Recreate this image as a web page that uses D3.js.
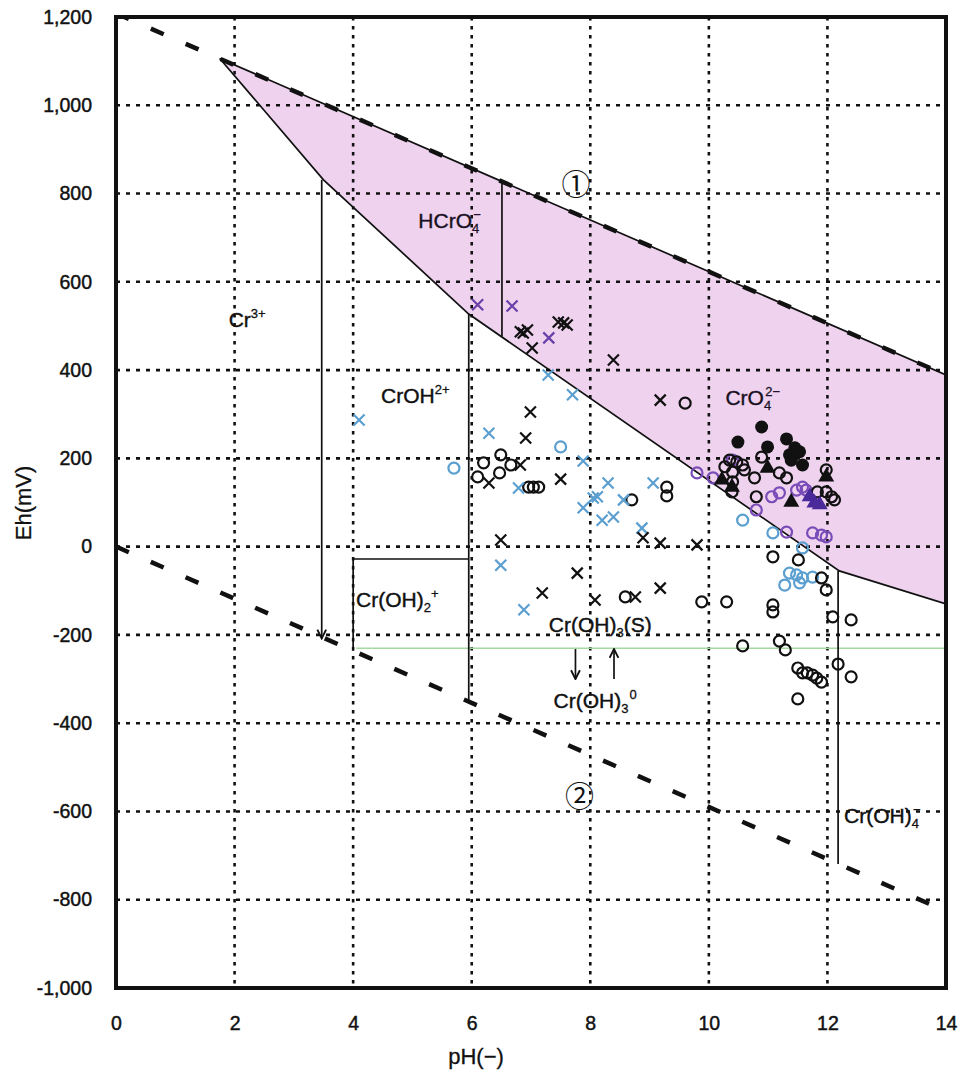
<!DOCTYPE html>
<html>
<head>
<meta charset="utf-8">
<script src="https://cdn.jsdelivr.net/npm/d3@7/dist/d3.min.js"></script>
<style>
  html, body { margin: 0; padding: 0; background: #fff; }
  svg { display: block; }
  text { font-family: "Liberation Sans", Arial, Helvetica, sans-serif; fill: #111; }
</style>
</head>
<body>
<svg id="chart" width="961" height="1075"></svg>
<script>
// ---------------- data ----------------
const xTicks = [0, 2, 4, 6, 8, 10, 12, 14];
const xTickLabels = ["0", "2", "4", "6", "8", "10", "12", "14"];
const yTicks = [-1000, -800, -600, -400, -200, 0, 200, 400, 600, 800, 1000, 1200];
const yTickLabels = ["-1,000", "-800", "-600", "-400", "-200", "0", "200", "400", "600", "800", "1,000", "1,200"];

// water stability lines [pH, Eh]
const line1 = [[0, 1208], [14, 389]];
const line2 = [[0, 0], [14, -826]];

// Cr(VI) field (pink): upper edge on line 1, lower edge boundary
const upperEdge = [[1.75, 1106], [14, 389]];
const lowerEdge = [[1.75, 1106], [3.5, 831], [5.95, 527], [12.2, -55], [14, -130]];

// other boundaries
const bHCrO4 = [[6.51, 827], [6.51, 476]];
const bCrOH = [[5.95, 527], [5.95, -351]];
const bCrOH2box = [[4.0, -236], [4.0, -28], [5.95, -28]];
const bCrOH4 = [[12.18, -55], [12.18, -719]];
const arrowCr3 = [[3.47, 831], [3.47, -208]];
const greenLine = [[4.05, -230], [14, -230]];
const arrowDown = [[7.75, -232], [7.75, -300]];
const arrowUp = [[8.4, -300], [8.4, -232]];

// measured points [pH, Eh]
const blackX = [[6.82,487],[6.87,484],[6.94,491],[7.02,450],[7.46,509],[7.55,507],[7.61,502],[8.39,423],
  [6.99,305],[6.91,246],[6.29,144],[6.82,185],[7.50,153],[8.89,20],[9.18,8],[6.49,15],[7.78,-60],
  [7.19,-105],[8.08,-121],[8.76,-114],[9.18,-94],[9.18,332],[9.80,4]];
const blueX = [[7.29,389],[7.70,344],[4.10,287],[6.29,257],[6.79,133],[7.88,194],[8.30,144],[8.05,110],
  [8.12,113],[7.88,88],[8.20,60],[8.39,67],[8.56,106],[9.06,144],[8.87,42],[6.49,-42],[6.88,-143]];
const purpleX = [[6.10,548],[6.68,545],[7.30,473]];
const blackO = [[6.20,190],[6.49,208],[6.10,158],[6.47,167],[6.66,185],[6.96,135],[7.04,135],[7.13,135],
  [8.70,106],[9.29,135],[9.29,115],[9.60,325],[8.59,-114],
  [10.35,196],[10.47,192],[10.57,185],[10.27,181],[10.40,169],[10.60,174],[10.89,203],[10.39,124],
  [10.40,147],[10.77,156],[10.80,113],[11.19,167],[11.31,156],[11.98,174],[11.83,124],[11.98,124],
  [12.07,113],[12.12,106],
  [11.08,-23],[11.51,-30],[11.90,-71],[11.98,-98],[9.88,-125],[10.30,-125],[11.08,-132],[11.08,-148],
  [12.09,-159],[12.40,-166],[10.57,-225],[11.19,-214],[11.29,-234],[11.50,-275],[11.58,-286],
  [11.66,-286],[11.75,-291],[11.82,-298],[11.90,-307],[11.50,-345],[12.18,-266],[12.40,-295]];
const blueO = [[7.50,226],[5.70,178],[10.57,60],[11.08,31],[11.36,-60],[11.48,-64],[11.58,-71],
  [11.28,-87],[11.53,-82],[11.75,-69],[11.58,-3]];
const purpleO = [[9.80,167],[10.07,156],[10.40,196],[11.06,113],[11.19,122],[11.48,128],[11.58,135],
  [11.31,33],[11.75,31],[11.90,26],[11.98,22],[10.80,83],[11.64,128]];
const blackDot = [[10.89,271],[10.49,237],[10.99,226],[11.31,244],[11.45,224],[11.53,215],[11.36,208],
  [11.58,185],[11.39,196]];
const blackTri = [[10.22,151],[10.39,135],[10.99,178],[11.39,101],[11.98,158]];
const purpleTri = [[11.70,113],[11.87,95],[11.78,99]];

// ---------------- chart ----------------
const svg = d3.select("#chart");
const x = d3.scaleLinear().domain([0, 14]).range([116, 946]);
const y = d3.scaleLinear().domain([-1000, 1200]).range([988, 17]);
const line = d3.line().x(d => x(d[0])).y(d => y(d[1]));

const defs = svg.append("defs");
defs.append("clipPath").attr("id", "plotclip")
  .append("rect").attr("x", x(0)).attr("y", y(1200)).attr("width", x(14) - x(0)).attr("height", y(-1000) - y(1200));
defs.append("marker").attr("id", "arr").attr("viewBox", "0 0 10 10").attr("refX", 9).attr("refY", 5)
  .attr("markerWidth", 11).attr("markerHeight", 11).attr("markerUnits", "userSpaceOnUse").attr("orient", "auto")
  .append("path").attr("d", "M1,1L9,5L1,9").attr("fill", "none").attr("stroke", "#111").attr("stroke-width", 1.7);

const plot = svg.append("g").attr("clip-path", "url(#plotclip)");

// pink region
const pinkPoly = upperEdge.concat(lowerEdge.slice().reverse());
plot.append("path").attr("d", line(pinkPoly) + "Z").attr("fill", "#eed2ee").attr("stroke", "none");

// grid
const grid = plot.append("g");
xTicks.filter(t => t > 0 && t < 14).forEach(t => {
  grid.append("line").attr("x1", x(t)).attr("x2", x(t)).attr("y1", y(1200)).attr("y2", y(-1000))
    .attr("stroke", "#111").attr("stroke-width", 2.6).attr("stroke-dasharray", "3.5,5.5");
});
yTicks.filter(t => t > -1000 && t < 1200).forEach(t => {
  grid.append("line").attr("x1", x(0)).attr("x2", x(14)).attr("y1", y(t)).attr("y2", y(t))
    .attr("stroke", "#111").attr("stroke-width", 2.6).attr("stroke-dasharray", "4,6");
});

// green line
plot.append("path").attr("d", line(greenLine)).attr("stroke", "#a6d9a0").attr("stroke-width", 1.5).attr("fill", "none");

// boundaries (solid thin)
[upperEdge, lowerEdge, bHCrO4, bCrOH, bCrOH2box, bCrOH4].forEach(b => {
  plot.append("path").attr("d", line(b)).attr("stroke", "#111").attr("stroke-width", 1.7).attr("fill", "none");
});
plot.append("path").attr("d", line(arrowCr3)).attr("stroke", "#111").attr("stroke-width", 1.7)
  .attr("fill", "none").attr("marker-end", "url(#arr)");

// water lines (thick dashes)
[line1, line2].forEach(l => {
  plot.append("path").attr("d", line(l)).attr("stroke", "#111").attr("stroke-width", 4.5)
    .attr("stroke-dasharray", "14,24").attr("fill", "none");
});

// markers
const mk = plot.append("g");
function drawX(data, color) {
  mk.selectAll(null).data(data).enter().append("path")
    .attr("transform", d => `translate(${x(d[0])},${y(d[1])})`)
    .attr("d", "M-5.5,-5.5L5.5,5.5M-5.5,5.5L5.5,-5.5")
    .attr("stroke", color).attr("stroke-width", 2.2).attr("fill", "none");
}
function drawO(data, color) {
  mk.selectAll(null).data(data).enter().append("circle")
    .attr("cx", d => x(d[0])).attr("cy", d => y(d[1])).attr("r", 5.5)
    .attr("stroke", color).attr("stroke-width", 2.2).attr("fill", "none");
}
function drawDot(data, color) {
  mk.selectAll(null).data(data).enter().append("circle")
    .attr("cx", d => x(d[0])).attr("cy", d => y(d[1])).attr("r", 6.5).attr("fill", color);
}
function drawTri(data, color) {
  const sym = d3.symbol().type(d3.symbolTriangle).size(110);
  mk.selectAll(null).data(data).enter().append("path")
    .attr("transform", d => `translate(${x(d[0])},${y(d[1])})`)
    .attr("d", sym).attr("fill", color);
}
drawO(blueO, "#5b9fd0");
drawO(purpleO, "#7a4cb8");
drawO(blackO, "#111");
drawX(blueX, "#5b9fd0");
drawX(purpleX, "#6a3fa8");
drawX(blackX, "#111");
drawDot(blackDot, "#111");
drawTri(blackTri, "#111");
drawTri(purpleTri, "#4a2a9a");

// frame
svg.append("rect").attr("x", x(0)).attr("y", y(1200)).attr("width", x(14) - x(0)).attr("height", y(-1000) - y(1200))
  .attr("fill", "none").attr("stroke", "#111").attr("stroke-width", 4);

// axes
const yAxis = d3.axisLeft(y).tickValues(yTicks).tickSize(0).tickPadding(24)
  .tickFormat((d, i) => yTickLabels[i]);
const ya = svg.append("g").attr("transform", `translate(${x(0)},0)`).call(yAxis);
ya.select(".domain").remove();
ya.selectAll("text").attr("font-size", 19.5).attr("fill", "#111").attr("stroke", "#111").attr("stroke-width", 0.45)
  .style("font-family", '"Liberation Sans", Arial, sans-serif');

const xAxis = d3.axisBottom(x).tickValues(xTicks).tickSize(0).tickPadding(28)
  .tickFormat((d, i) => xTickLabels[i]);
const xa = svg.append("g").attr("transform", `translate(0,${y(-1000)})`).call(xAxis);
xa.select(".domain").remove();
xa.selectAll("text").attr("font-size", 19.5).attr("fill", "#111").attr("stroke", "#111").attr("stroke-width", 0.45)
  .style("font-family", '"Liberation Sans", Arial, sans-serif');

svg.append("text").attr("x", 476).attr("y", 1064).attr("text-anchor", "middle")
  .attr("font-size", 22).attr("stroke", "#111").attr("stroke-width", 0.3).text("pH(−)");
svg.append("text").attr("transform", "translate(31,503) rotate(-90)").attr("text-anchor", "middle")
  .attr("font-size", 22).attr("stroke", "#111").attr("stroke-width", 0.3).text("Eh(mV)");

// species labels: parts = [text, kind, dx]
function label(px, eh, parts, color) {
  const size = 21;
  const col = color || "#111";
  const t = svg.append("text").attr("x", x(px)).attr("y", y(eh)).attr("font-size", size)
    .attr("fill", col).attr("stroke", col).attr("stroke-width", 0.4);
  let level = 0;
  parts.forEach(p => {
    const kind = p[1] || "base";
    const target = kind === "sup" ? -9 : kind === "sub" ? 5 : 0;
    const s = t.append("tspan").text(p[0]).attr("dy", target - level);
    level = target;
    if (kind !== "base") s.attr("font-size", size * 0.62).attr("stroke-width", 0.3);
    if (p[2] !== undefined) s.attr("dx", p[2]);
  });
  return t;
}
label(1.9, 498, [["Cr"], ["3+", "sup"]]);
label(4.47, 326, [["CrOH"], ["2+", "sup"]]);
label(5.1, 722, [["HCrO"], ["4", "sub"], ["−", "sup", -6]], "#2e1640");
label(10.28, 321, [["CrO"], ["4", "sub"], ["2−", "sup", -6]], "#2e1640");
label(4.05, -137, [["Cr(OH)"], ["2", "sub"], ["+", "sup", 0]]);
label(7.3, -193, [["Cr(OH)"], ["3", "sub"], ["(S)", "base"]]);
label(7.38, -365, [["Cr(OH)"], ["3", "sub"], ["0", "sup", 1]]);
label(12.28, -626, [["Cr(OH)"], ["4", "sub"], ["−", "sup", -6]]);

svg.append("text").attr("x", x(7.76)).attr("y", y(826)).attr("text-anchor", "middle").attr("dominant-baseline", "central")
  .attr("font-size", 29).style("font-family", '"Noto Sans CJK JP", "DejaVu Sans", sans-serif').text("①");
svg.append("text").attr("x", x(7.82)).attr("y", y(-560)).attr("text-anchor", "middle").attr("dominant-baseline", "central")
  .attr("font-size", 29).style("font-family", '"Noto Sans CJK JP", "DejaVu Sans", sans-serif').text("②");

// small arrows near Cr(OH)3
[arrowDown, arrowUp].forEach(a => {
  svg.append("path").attr("d", line(a)).attr("stroke", "#111").attr("stroke-width", 1.7)
    .attr("fill", "none").attr("marker-end", "url(#arr)");
});
</script>
</body>
</html>
